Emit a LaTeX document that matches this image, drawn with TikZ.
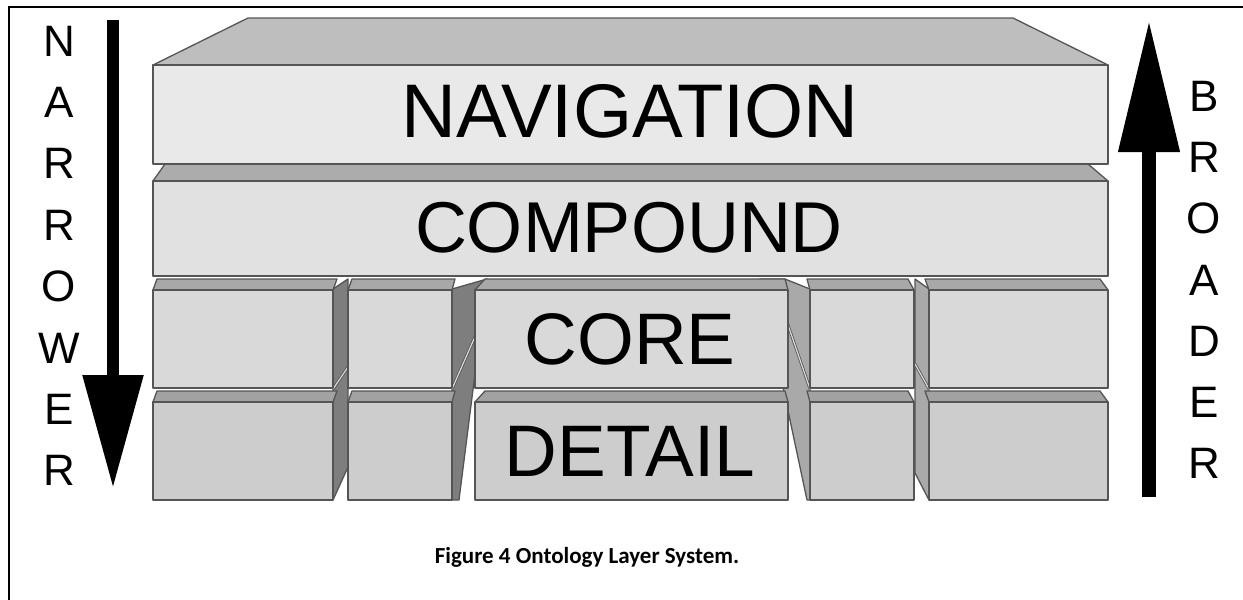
\documentclass[tikz,border=0pt]{standalone}
\usepackage{fontspec}
\setmainfont{Liberation Sans}
\newfontfamily\capfont{Carlito}
\usepackage{tikz}
\usetikzlibrary{arrows.meta}

\definecolor{outline}{HTML}{555555}
\definecolor{navfront}{HTML}{E9E9E9}
\definecolor{navtop}{HTML}{BEBEBE}
\definecolor{compfront}{HTML}{E1E1E1}
\definecolor{comptop}{HTML}{ACACAC}
\definecolor{corefront}{HTML}{D9D9D9}
\definecolor{coretop}{HTML}{A8A8A8}
\definecolor{detailfront}{HTML}{CDCDCD}
\definecolor{detailtop}{HTML}{A2A2A2}
\definecolor{sidedark}{HTML}{7E7E7E}
\definecolor{sidelight}{HTML}{A9A9A9}

\tikzset{
  edge/.style={draw=outline, line width=1.3pt, line join=round},
  face/.style={edge, fill=#1},
  rowsplit/.style={draw=outline, line width=0.8pt, double=gray!30, double distance=1.2pt},
  layertext/.style={font=\fontsize{#1}{80}\selectfont, inner sep=0pt},
  sideletter/.style={font=\fontsize{44}{46}\selectfont, inner sep=0pt},
  bigarrow/.style={line width=#1}
}

\begin{document}
\begin{tikzpicture}[x=1pt,y=-1pt]
\useasboundingbox (0,0) rectangle (1243,600);
\draw[line width=2pt] (9,7) rectangle (1260,620);

% side faces between the lower blocks
\draw[face=sidedark] (333,289) -- (348,279) -- (348,467) -- (333,500) -- cycle;
\draw[face=sidedark] (452,289) -- (487,279) -- (459,500) -- (452,500) -- cycle;
\draw[face=sidelight] (810,289) -- (785,279) -- (760,279) -- (807,500) -- (810,500) -- cycle;
\draw[face=sidelight] (929,289) -- (915,279) -- (915,473) -- (929,500) -- cycle;
\draw[rowsplit] (333,389) -- (348,367);
\draw[rowsplit] (452,389) -- (481,323);
\draw[rowsplit] (810,389) -- (787,322);
\draw[rowsplit] (929,389) -- (915,364);

% core and detail rows
\foreach \yo/\ft/\tp in {0/corefront/coretop, 112/detailfront/detailtop}
\foreach \xl/\xr/\bl/\br in {153/333/157/337, 348/452/352/455, 475/788/485/785, 810/914/807/908, 929/1108/925/1100}
{
\draw[face=\tp] (\xl,290+\yo) -- (\bl,279+\yo) -- (\br,279+\yo) -- (\xr,290+\yo) -- cycle;
\draw[face=\ft] (\xl,290+\yo) rectangle (\xr,388+\yo);
}

% compound layer
\draw[face=comptop] (153,181) -- (165,164) -- (1088,164) -- (1108,181) -- cycle;
\draw[face=compfront] (153,181) rectangle (1108,276);

% navigation layer
\draw[face=navtop] (153,65) -- (248,18) -- (1013,18) -- (1108,65) -- cycle;
\draw[face=navfront] (153,65) rectangle (1108,164);

\node[layertext=76] (nav) at (630,111) {NAVIGATION};
\node[layertext=72] (comp) at (629,228) {COMPOUND};
\node[layertext=73] (core) at (630,339) {CORE};
\node[layertext=73] (detail) at (630,451) {DETAIL};

% arrows at the sides
\coordinate (narrowtop) at (113,20);
\coordinate (narrowtip) at (113,488);
\draw[bigarrow=12pt, -{Triangle[length=113pt,width=58pt]}] (narrowtop) -- (narrowtip);
\coordinate (broadfoot) at (1149,497);
\coordinate (broadtip) at (1149,20);
\draw[bigarrow=14pt, -{Triangle[length=132pt,width=58pt]}] (broadfoot) -- (broadtip);

\foreach \ch [count=\i from 0] in {N,A,R,R,O,W,E,R}
  \node[sideletter] (nl\i) at (59,41+61.4*\i) {\ch};
\foreach \ch [count=\i from 0] in {B,R,O,A,D,E,R}
  \node[sideletter] (bl\i) at (1204,96+61.3*\i) {\ch};

\node[font=\capfont\bfseries\fontsize{23}{26}\selectfont, anchor=base] (caption) at (587,563) {Figure 4 Ontology Layer System.};
\end{tikzpicture}
\end{document}
